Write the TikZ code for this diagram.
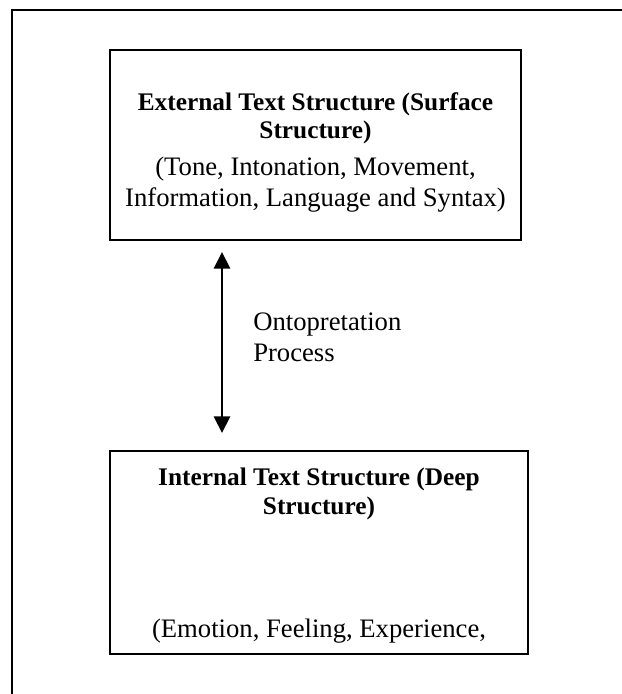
\documentclass[tikz,border=0pt]{standalone}
\usepackage{fontspec}
\setmainfont{Liberation Serif}
\usetikzlibrary{arrows.meta}
\tikzset{
  boxst/.style={draw, line width=1.5pt, rectangle, inner sep=0pt},
  ttl/.style={anchor=base, inner sep=0pt, font=\fontsize{19}{23}\selectfont\bfseries},
  bodytxt/.style={anchor=base, inner sep=0pt, font=\fontsize{20}{24}\selectfont},
  labtxt/.style={anchor=base west, inner sep=0pt, font=\fontsize{20}{24}\selectfont},
  dblarrow/.style={line width=2.2pt, {Triangle[width=12pt,length=12.5pt]}-{Triangle[width=12pt,length=12.5pt]}}
}
\begin{document}
\begin{tikzpicture}[x=0.75pt,y=-0.75pt]
\useasboundingbox (0,0) rectangle (622,694);
\clip (0,0) rectangle (622,694);
% outer frame (only top and left edges visible)
\draw[line width=1.5pt] (12,720) -- (12,10) -- (650,10);
% boxes
\node[boxst, minimum width=308.25pt, minimum height=142.5pt] (top) at (315.5,145) {};
\node[boxst, minimum width=313.5pt, minimum height=152.25pt] (bot) at (319,552.5) {};
% top texts
\node[ttl] (t1) at (315.5,110) {External Text Structure (Surface};
\node[ttl] (t2) at (315.5,138) {Structure)};
\node[bodytxt] (t3) at (315.5,175) {(Tone, Intonation, Movement,};
\node[bodytxt] (t4) at (315.5,206) {Information, Language and Syntax)};
% bottom texts
\node[ttl] (b1) at (319,485) {Internal Text Structure (Deep};
\node[ttl] (b2) at (319,514) {Structure)};
\node[bodytxt] (b3) at (319,637) {(Emotion, Feeling, Experience,};
% arrow
\coordinate (a1) at (222,252);
\coordinate (a2) at (222,433);
\draw[dblarrow] (a1) -- (a2);
\node[labtxt] (l1) at (253,330) {Ontopretation};
\node[labtxt] (l2) at (253,361) {Process};
\end{tikzpicture}
\end{document}
